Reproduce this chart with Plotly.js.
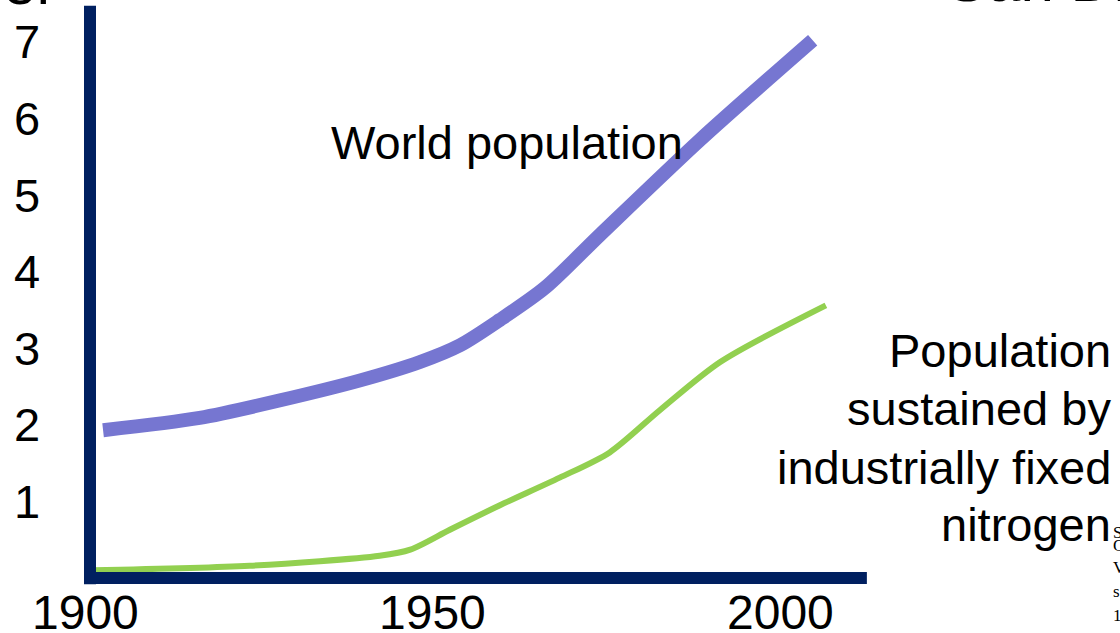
<!DOCTYPE html>
<html>
<head>
<meta charset="utf-8">
<script src="https://cdn.plot.ly/plotly-3.0.1.min.js"></script>
<style>html,body{margin:0;padding:0;background:#fff;}#chart{width:1120px;height:633px;}</style>
</head>
<body>
<div id="chart"></div>
<script>
// World population (billions)
const worldYears = [1902.6, 1916.5, 1928.1, 1939.6, 1948.2, 1954.0, 1959.7, 1966.2, 1974.1, 1988.5, 2004.7];
const worldPop   = [1.93, 2.09, 2.32, 2.58, 2.82, 3.04, 3.37, 3.79, 4.48, 5.72, 7.02];

// Population sustained by industrially fixed nitrogen (billions)
const nitroYears = [1901.0, 1923.7, 1942.4, 1946.8, 1952.5, 1959.7, 1968.3, 1975.5, 1982.7, 1991.4, 2006.6];
const nitroPop   = [0.10, 0.16, 0.29, 0.37, 0.63, 0.95, 1.31, 1.64, 2.19, 2.82, 3.56];

const yTicks = [1, 2, 3, 4, 5, 6, 7];
const xTicks = [1900, 1950, 2000];
const nitroLabel = ["Population", "sustained by", "industrially fixed", "nitrogen"];
const smallText = ["S", "O", "V", "s", "1"];

const FONT = "Liberation Sans, Arial, sans-serif";
const NAVY = "#002060";

const traces = [
  { x: worldYears, y: worldPop, mode: "lines", line: { color: "#7676D1", width: 14, shape: "spline", smoothing: 0.8 }, hoverinfo: "skip" },
  { x: nitroYears, y: nitroPop, mode: "lines", line: { color: "#92D050", width: 6, shape: "spline", smoothing: 0.8 }, hoverinfo: "skip" }
];

const annotations = [];
yTicks.forEach(v => annotations.push({
  xref: "paper", yref: "y", x: 0.0241, y: v, text: String(v), showarrow: false,
  xanchor: "center", yanchor: "middle", font: { family: FONT, size: 47, color: "#000" }
}));
xTicks.forEach(v => annotations.push({
  xref: "x", yref: "y", x: v, y: -0.45, text: String(v), showarrow: false,
  xanchor: "center", yanchor: "middle", font: { family: FONT, size: 48, color: "#000" }
}));
annotations.push({
  xref: "x", yref: "y", x: 1960.7, y: 5.68, text: "World population", showarrow: false,
  xanchor: "center", yanchor: "middle", font: { family: FONT, size: 47, color: "#000" }
});
const nitroLineY = [0.447, 0.355, 0.261, 0.171];
nitroLabel.forEach((t, i) => annotations.push({
  xref: "paper", yref: "paper", x: 0.994, y: nitroLineY[i], text: t,
  showarrow: false, xanchor: "right", yanchor: "middle",
  font: { family: FONT, size: 47, color: "#000" }
}));
// partially visible texts cut by the picture edge
annotations.push({
  xref: "paper", yref: "paper", x: 0.052, y: 0.970, text: "Number", showarrow: false,
  xanchor: "right", yanchor: "bottom", font: { family: FONT, size: 60, color: "#000" }
});
annotations.push({
  xref: "paper", yref: "paper", x: 0.844, y: 0.9755, text: "San Diego", showarrow: false,
  xanchor: "left", yanchor: "bottom", font: { family: FONT, size: 60, color: "#000" }
});
const smallY = [0.158, 0.138, 0.103, 0.065, 0.028];
smallText.forEach((t, i) => annotations.push({
  xref: "paper", yref: "paper", x: 0.992, y: smallY[i], text: t, showarrow: false,
  xanchor: "left", yanchor: "middle", font: { family: "Liberation Serif, Times New Roman, serif", size: 17, color: "#000" }
}));

const layout = {
  width: 1120, height: 633,
  margin: { l: 0, r: 0, t: 0, b: 0 },
  paper_bgcolor: "#fff", plot_bgcolor: "#fff",
  showlegend: false,
  xaxis: { range: [1887.77, 2048.92], visible: false, fixedrange: true },
  yaxis: { range: [-0.718, 7.546], visible: false, fixedrange: true },
  shapes: [
    { type: "line", xref: "x", yref: "y", x0: 1900.72, x1: 1900.72, y0: -0.08, y1: 7.47, line: { color: NAVY, width: 12 } },
    { type: "line", xref: "x", yref: "y", x0: 1899.9, x1: 2012.5, y0: 0, y1: 0, line: { color: NAVY, width: 12 } }
  ],
  annotations: annotations
};

Plotly.newPlot("chart", traces, layout, { displayModeBar: false, staticPlot: true });
</script>
</body>
</html>
